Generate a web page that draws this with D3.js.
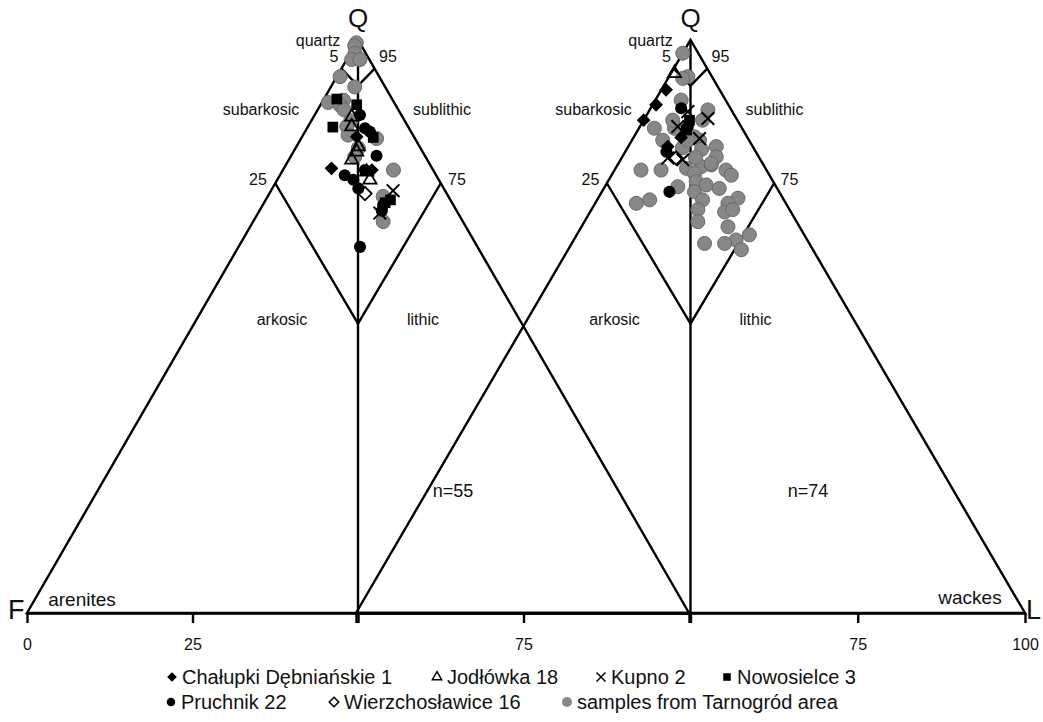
<!DOCTYPE html>
<html>
<head>
<meta charset="utf-8">
<script src="https://cdn.jsdelivr.net/npm/d3@7"></script>
<style>
body{margin:0;background:#fff;}
text{font-family:"Liberation Sans",Arial,sans-serif;fill:#111;}
</style>
</head>
<body>
<script>
/* DATA: every point is [Q, L] in percent, F = 100 - Q - L */

// left diagram (arenites, n=55)
var left_tarnogrod = [[99.5,0],[99,0],[97.7,0.7],[96.6,0.75],[96.6,2.0],[93.6,0.5],[91.8,3.6],[89.1,0.95],
  [89.5,3.05],[88.6,3.0],[87.8,4.0],[85.9,5.95],[84.9,5.85],[83.4,6.8],[82.8,11.4],[77.3,16.7],
  [81.1,9.5],[79.6,9.7],[72.7,17.45],[68.3,19.65]];
var left_chalupki = [[77.6,7.2],[83.1,8.25],[77.3,13.45]];
var left_jodlowka = [[86.6,5.75],[84.9,6.6],[81.4,9.35],[80.5,9.55],[79.1,9.5],[75.6,14.0],[77.0,12.8]];
var left_kupno = [[73.7,18.45],[69.8,18.4]];
var left_nowosielce = [[89.7,1.95],[88.7,5.45],[84.8,3.8],[83.0,10.8],[72.1,18.85],[71.6,18.3]];
var left_pruchnik = [[86.9,6.85],[84.6,8.76],[84.0,9.8],[79.8,12.9],[76.4,9.8],[75.6,11.5],[74.1,13.0],
  [77.3,12.4],[63.9,18.35],[71.2,18.2],[70.2,18.5]];
var left_wierzcho = [[73.2,14.46]];

// right diagram (wackes, n=74)
var right_tarnogrod = [[97.7,0],[93.6,2.8],[93.3,2.2],[89.5,3.85],[87.8,8.7],[86.0,8.8],[84.6,2.3],[84.6,5.3],
  [82.5,4.6],[82.5,10.1],[83.1,9.05],[81.4,13.15],[79.6,14.05],[77.3,3.95],[77.3,6.95],[77.6,10.6],
  [77.9,12.65],[78.2,14.0],[77.3,16.65],[76.4,17.9],[76.7,12.25],[75.3,13.2],[74.7,15.0],[74.1,17.25],
  [74.4,10.9],[73.5,13.85],[72.1,7.85],[71.5,6.15],[72.1,15.75],[72.4,20.9],[71.5,19.85],[70.0,20.1],
  [70.4,21.1],[70.4,15.9],[68.3,16.95],[67.4,21.9],[66.0,25.8],[65.1,24.25],[64.5,22.85],[64.5,19.85],
  [63.4,25.9],[81.2,8.2],[80.9,11.2],[79.5,11.0],[78.5,13.85],[82.5,8.35],[86.0,4.35]];
var right_chalupki = [[91.3,0.7],[88.7,0.5],[86,0],[83,7.1],[81.4,5.9]];
var right_jodlowka = [[94.2,0.5]];
var right_kupno = [[87.5,5.85],[86.3,9.45],[84.9,5.65],[82.8,9.95],[79.4,6.9],[79.1,9.3]];
var right_nowosielce = [[86,6.85],[84.3,7.25]];
var right_pruchnik = [[88.1,4.55],[84.9,7.15],[80.5,6.15],[73.5,10.1]];
var right_wierzcho = [[79.4,8.15]];

// field boundaries, [Q, L]
var boundaries = [
  [[100,0],[0,50]],
  [[95,0],[92,4],[95,5]],
  [[75,0],[50.5,24.75],[75,25]]
];

var legend_labels = ["Chałupki Dębniańskie 1","Jodłówka 18","Kupno 2","Nowosielce 3",
  "Pruchnik 22","Wierzchosławice 16","samples from Tarnogród area"];

/* SETUP */
var W = 1043, H = 722;
var baseY = 613, apexY = 40;

var svg = d3.select("body").append("svg")
  .attr("width", W)
  .attr("height", H);

// custom marker shapes
var diamondType = {draw: function(ctx, size){
  var r = Math.sqrt(size)/2;
  ctx.moveTo(0,-r); ctx.lineTo(r,0); ctx.lineTo(0,r); ctx.lineTo(-r,0); ctx.closePath();
}};
var timesType = {draw: function(ctx, size){
  var r = Math.sqrt(size)/2;
  ctx.moveTo(-r,-r); ctx.lineTo(r,r); ctx.moveTo(r,-r); ctx.lineTo(-r,r);
}};

var styles = {
  tarnogrod: {type: d3.symbolCircle, size: 155, fill: "#878787", stroke: "#6a6a6a", sw: 1},
  pruchnik: {type: d3.symbolCircle, size: 115, fill: "#000", stroke: "none", sw: 0},
  nowosielce: {type: d3.symbolSquare, size: 115, fill: "#000", stroke: "none", sw: 0},
  chalupki: {type: diamondType, size: 190, fill: "#000", stroke: "none", sw: 0},
  jodlowka: {type: d3.symbolTriangle, size: 75, fill: "none", stroke: "#000", sw: 1.8},
  wierzcho: {type: diamondType, size: 180, fill: "none", stroke: "#000", sw: 1.8},
  kupno: {type: timesType, size: 160, fill: "none", stroke: "#000", sw: 2}
};

var diagrams = [
  {x0: 27, x1: 689, nText: "n=55", nX: 453, series: {
    tarnogrod: left_tarnogrod, pruchnik: left_pruchnik, nowosielce: left_nowosielce,
    chalupki: left_chalupki, jodlowka: left_jodlowka, wierzcho: left_wierzcho, kupno: left_kupno}},
  {x0: 356, x1: 1025, nText: "n=74", nX: 808, series: {
    tarnogrod: right_tarnogrod, pruchnik: right_pruchnik, nowosielce: right_nowosielce,
    chalupki: right_chalupki, jodlowka: right_jodlowka, wierzcho: right_wierzcho, kupno: right_kupno}}
];

var order = ["tarnogrod","pruchnik","nowosielce","chalupki","jodlowka","wierzcho","kupno"];

var y = d3.scaleLinear().domain([0,100]).range([baseY, apexY]);

diagrams.forEach(function(dg){
  var x = d3.scaleLinear().domain([0,100]).range([dg.x0, dg.x1]);
  dg.x = x;
  var proj = function(d){ return [x(d[1] + d[0]/2), y(d[0])]; };
  var line = d3.line().x(function(d){return proj(d)[0];}).y(function(d){return proj(d)[1];});
  var g = svg.append("g");

  // outline
  g.append("path")
    .attr("d", line([[0,0],[100,0],[0,100]]) + "Z")
    .attr("fill","none").attr("stroke","#000").attr("stroke-width",2.4)
    .attr("stroke-linejoin","miter");

  g.selectAll(".bound").data(boundaries).enter().append("path")
    .attr("d", line)
    .attr("fill","none").attr("stroke","#000").attr("stroke-width",2.4);

  // field labels
  var ax = x(50);
  var labs = [
    ["Q", 0, 27, 26], ["quartz", -40, 46, 16], ["5", -24, 62, 16], ["95", 30, 62, 16],
    ["subarkosic", -97, 115, 16], ["sublithic", 84, 115, 16],
    ["25", -100, 185, 16], ["75", 99, 185, 16],
    ["arkosic", -76, 325, 16], ["lithic", 65, 325, 16]
  ];
  g.selectAll(".lab").data(labs).enter().append("text")
    .attr("x", function(d){return ax + d[1];})
    .attr("y", function(d){return d[2];})
    .attr("font-size", function(d){return d[3];})
    .attr("text-anchor","middle")
    .text(function(d){return d[0];});

  g.append("text").attr("x", dg.nX).attr("y", 497)
    .attr("font-size",18).attr("text-anchor","middle").text(dg.nText);

  // points
  order.forEach(function(k){
    var st = styles[k];
    g.selectAll(".p-" + k).data(dg.series[k]).enter().append("path")
      .attr("transform", function(d){ var p = proj(d); return "translate(" + p[0] + "," + p[1] + ")"; })
      .attr("d", d3.symbol().type(st.type).size(st.size))
      .attr("fill", st.fill)
      .attr("stroke", st.stroke)
      .attr("stroke-width", st.sw);
  });
});

// bottom axes
var axLeft = d3.axisBottom(diagrams[0].x)
  .tickValues([0,25,50,75,100])
  .tickFormat(function(d){ return (d === 50 || d === 100) ? "" : d; })
  .tickSize(10).tickSizeOuter(0).tickPadding(16);
var axRight = d3.axisBottom(diagrams[1].x)
  .tickValues([0,50,75,100])
  .tickFormat(function(d){ return d >= 75 ? d : ""; })
  .tickSize(10).tickSizeOuter(0).tickPadding(16);

[axLeft, axRight].forEach(function(a){
  var ga = svg.append("g").attr("transform","translate(0," + baseY + ")").call(a);
  ga.select(".domain").attr("stroke","#000").attr("stroke-width",2.4);
  ga.selectAll(".tick line").attr("stroke","#000").attr("stroke-width",2.4);
  ga.selectAll(".tick text").attr("font-size",16).attr("fill","#111")
    .attr("font-family","Liberation Sans, Arial, sans-serif");
});

// corner labels
svg.append("text").attr("x",8).attr("y",619).attr("font-size",27).text("F");
svg.append("text").attr("x",1026).attr("y",619).attr("font-size",27).text("L");
svg.append("text").attr("x",82).attr("y",606).attr("font-size",19).attr("text-anchor","middle").text("arenites");
svg.append("text").attr("x",970).attr("y",604).attr("font-size",19).attr("text-anchor","middle").text("wackes");

// legend
var legendItems = [
  {k:"chalupki", x:172, y:677}, {k:"jodlowka", x:437, y:677}, {k:"kupno", x:601, y:677}, {k:"nowosielce", x:727, y:677},
  {k:"pruchnik", x:171, y:702}, {k:"wierzcho", x:334, y:702}, {k:"tarnogrod", x:567, y:702}
];
var lg = svg.append("g");
legendItems.forEach(function(it, i){
  var st = styles[it.k];
  lg.append("path")
    .attr("transform","translate(" + it.x + "," + it.y + ")")
    .attr("d", d3.symbol().type(st.type).size(st.size*0.5))
    .attr("fill", st.fill)
    .attr("stroke", st.stroke === "#6a6a6a" ? "none" : st.stroke)
    .attr("stroke-width", Math.min(st.sw, 1.5));
  lg.append("text")
    .attr("x", it.x + 10).attr("y", it.y + 7)
    .attr("font-size", 20)
    .text(legend_labels[i]);
});
</script>
</body>
</html>
